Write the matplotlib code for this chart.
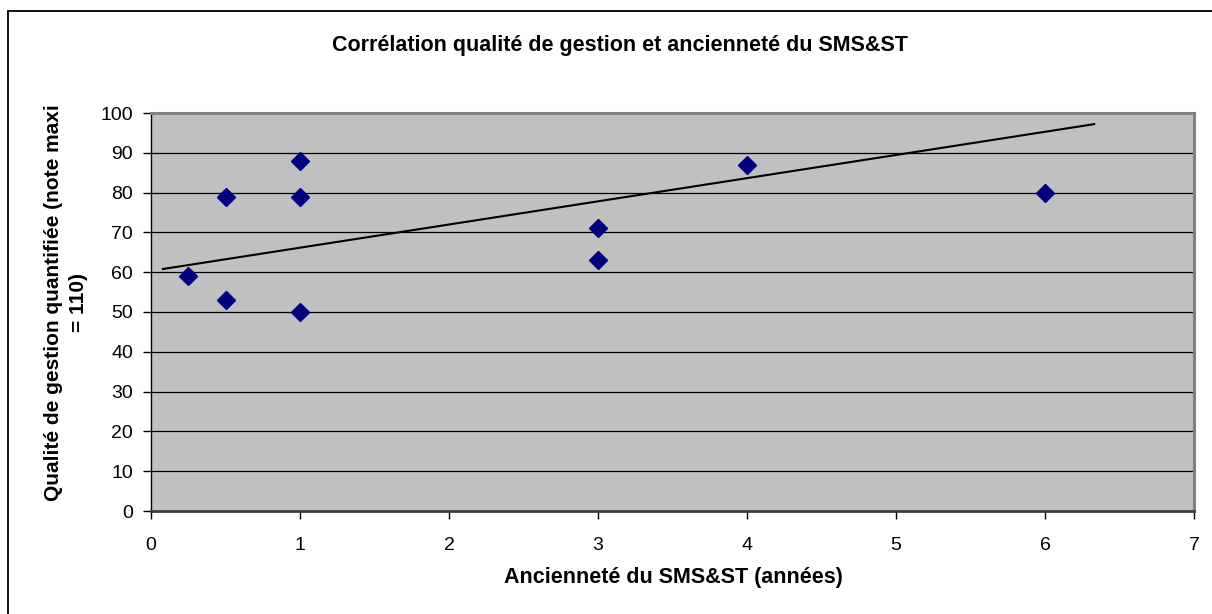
import matplotlib
matplotlib.use("Agg")
import matplotlib.pyplot as plt
from matplotlib.patches import Rectangle

plt.rcParams['font.family'] = ['Liberation Sans', 'DejaVu Sans']

# Data
anciennete = [0.25, 0.5, 0.5, 1, 1, 1, 3, 3, 4, 6]
qualite = [59, 79, 53, 88, 79, 50, 71, 63, 87, 80]
trend_x = [0.08, 6.33]
trend_y = [60.8, 97.2]
x_ticks = [0, 1, 2, 3, 4, 5, 6, 7]
y_ticks = [0, 10, 20, 30, 40, 50, 60, 70, 80, 90, 100]
title = "Corrélation qualité de gestion et ancienneté du SMS&ST"
xlabel = "Ancienneté du SMS&ST (années)"
ylabel = "Qualité de gestion quantifiée (note maxi\n= 110)"

W, H = 1212, 614
fig = plt.figure(figsize=(W / 100, H / 100), dpi=100)
fig.patch.set_facecolor('white')

# outer chart border (left/top visible)
fig.patches.append(Rectangle((8 / W, -0.05), 1.2, 1 - 11 / H + 0.05,
                             transform=fig.transFigure, fill=False,
                             edgecolor='black', lw=1.3))

ax = fig.add_axes([151 / W, 1 - 511 / H, (1194 - 151) / W, (511 - 113) / H])
ax.set_facecolor('#C0C0C0')
ax.set_xlim(0, 7)
ax.set_ylim(0, 100)
ax.set_xticks(x_ticks)
ax.set_yticks(y_ticks)
ax.yaxis.grid(True, color='black', lw=0.9)
ax.set_axisbelow(True)

for s in ['top', 'right']:
    ax.spines[s].set_color('#808080')
    ax.spines[s].set_linewidth(2.2)
ax.spines['left'].set_color('black')
ax.spines['left'].set_linewidth(1.0)
ax.spines['bottom'].set_color('#404040')
ax.spines['bottom'].set_linewidth(2.0)

ax.tick_params(axis='both', direction='out', length=6, width=1, color='black',
               labelsize=14)
ax.tick_params(axis='x', pad=13)
ax.tick_params(axis='y', pad=7)

ax.plot(trend_x, trend_y, color='black', lw=1.5, zorder=3)
ax.plot(anciennete, qualite, linestyle='none', marker='D', markersize=9,
        color='#000080', zorder=4, clip_on=False)

fig.text(620 / W, 1 - 45 / H, title, ha='center', va='center',
         fontsize=15.5, fontweight='bold')
fig.text(673 / W, 1 - 578 / H, xlabel, ha='center', va='center',
         fontsize=15.5, fontweight='bold')
fig.text(66 / W, 1 - 303 / H, ylabel, ha='center', va='center',
         rotation=90, multialignment='center',
         fontsize=15, fontweight='bold', linespacing=1.35)

fig.savefig('out.png', dpi=100)
